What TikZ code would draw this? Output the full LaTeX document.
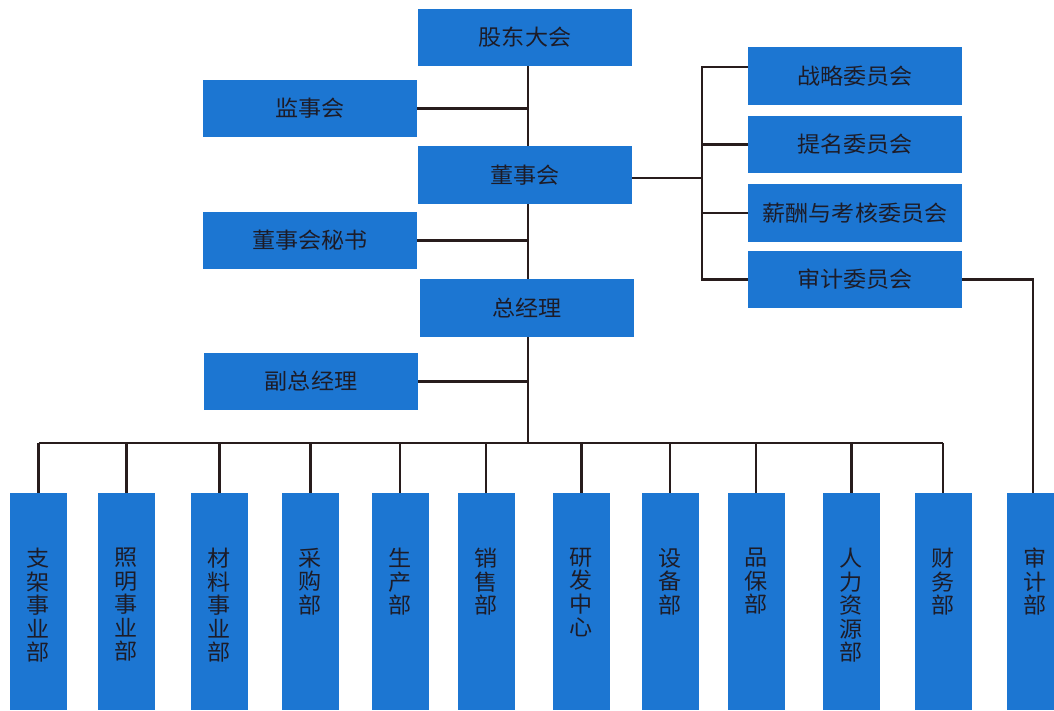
\documentclass[tikz,border=0pt]{standalone}
\usepackage{fontspec}
\newfontfamily\cjk[FakeStretch=1.05]{Noto Sans CJK SC}
\usetikzlibrary{calc}
\definecolor{boxblue}{RGB}{28,118,210}
\definecolor{linec}{RGB}{40,28,28}
\definecolor{txtc}{RGB}{28,28,40}
\newcommand\vtxt[1]{\parbox[t][217pt][t]{57pt}{\centering\fontsize{22}{23.5}\selectfont\vspace*{55pt}#1}}
\begin{document}
\begin{tikzpicture}[x=1pt,y=-1pt,
  hbox/.style={rectangle,fill=boxblue,draw=none,minimum width=214pt,minimum height=57pt,inner sep=0pt,text=txtc,font=\cjk\fontsize{22}{24}\selectfont},
  vbox/.style={rectangle,fill=boxblue,draw=none,inner sep=0pt,anchor=north,text=txtc,font=\cjk},
  conn/.style={draw=linec,line width=2.3pt}]
\useasboundingbox (0,0) rectangle (1054,710);
\clip (0,0) rectangle (1054,710);
\fill[white] (0,0) rectangle (1054,710);
% top column
\node[hbox] (gd) at (525,37.5) {股东大会};
\node[hbox] (js) at (310,108.5) {监事会};
\node[hbox,minimum height=58pt] (dsh) at (525,175) {董事会};
\node[hbox] (ms) at (310,240.5) {董事会秘书};
\node[hbox,minimum height=58pt] (zjl) at (527,308) {总经理};
\node[hbox] (fz) at (311,381.5) {副总经理};
% committees
\node[hbox,minimum height=58pt] (zl) at (855,76) {战略委员会};
\node[hbox] (tm) at (855,144.5) {提名委员会};
\node[hbox,minimum height=58pt] (xc) at (855,213) {薪酬与考核委员会};
\node[hbox] (sjw) at (855,279.5) {审计委员会};
% departments
\node[vbox] (d1) at (38.5,493) {\vtxt{支\\架\\事\\业\\部}};
\node[vbox] (d2) at (126.5,493) {\vtxt{照\\明\\事\\业\\部}};
\node[vbox] (d3) at (219.5,493) {\vtxt{材\\料\\事\\业\\部}};
\node[vbox] (d4) at (310.5,493) {\vtxt{采\\购\\部}};
\node[vbox] (d5) at (400,493) {\vtxt{生\\产\\部}};
\node[vbox] (d6) at (486,493) {\vtxt{销\\售\\部}};
\node[vbox] (d7) at (581.5,493) {\vtxt{研\\发\\中\\心}};
\node[vbox] (d8) at (670,493) {\vtxt{设\\备\\部}};
\node[vbox] (d9) at (756,493) {\vtxt{品\\保\\部}};
\node[vbox] (d10) at (851.5,493) {\vtxt{人\\力\\资\\源\\部}};
\node[vbox] (d11) at (943,493) {\vtxt{财\\务\\部}};
\node[vbox] (d12) at (1035,493) {\vtxt{审\\计\\部}};
% helper coordinates
\coordinate (t) at (528,0);
\coordinate (bus) at (0,443);
\coordinate (cb) at (702,0);
\coordinate (sr) at (1033,0);
% connectors
\draw[conn] (gd.south -| t) -- (dsh.north -| t);
\draw[conn] (js.east) -- (js.east -| t);
\draw[conn] (dsh.south -| t) -- (zjl.north -| t);
\draw[conn] (ms.east) -- (ms.east -| t);
\draw[conn] (zjl.south -| t) -- (t |- bus);
\draw[conn] (fz.east) -- (fz.east -| t);
\draw[conn] (d1.north |- bus) -- (d11.north |- bus);
\foreach \d in {d1,d2,d3,d4,d5,d6,d7,d8,d9,d10,d11}
  \draw[conn] (\d.north |- bus) -- (\d.north);
% committees
\draw[conn] ([yshift=-3pt]dsh.east) -- ([yshift=-3pt]dsh.east -| cb);
\draw[conn] ([yshift=9pt]zl.west) -| (sjw.west -| cb) -- (sjw.west);
\draw[conn] (tm.west -| cb) -- (tm.west);
\draw[conn] (xc.west -| cb) -- (xc.west);
\draw[conn] (sjw.east) -| (d12.north -| sr);
\end{tikzpicture}
\end{document}
